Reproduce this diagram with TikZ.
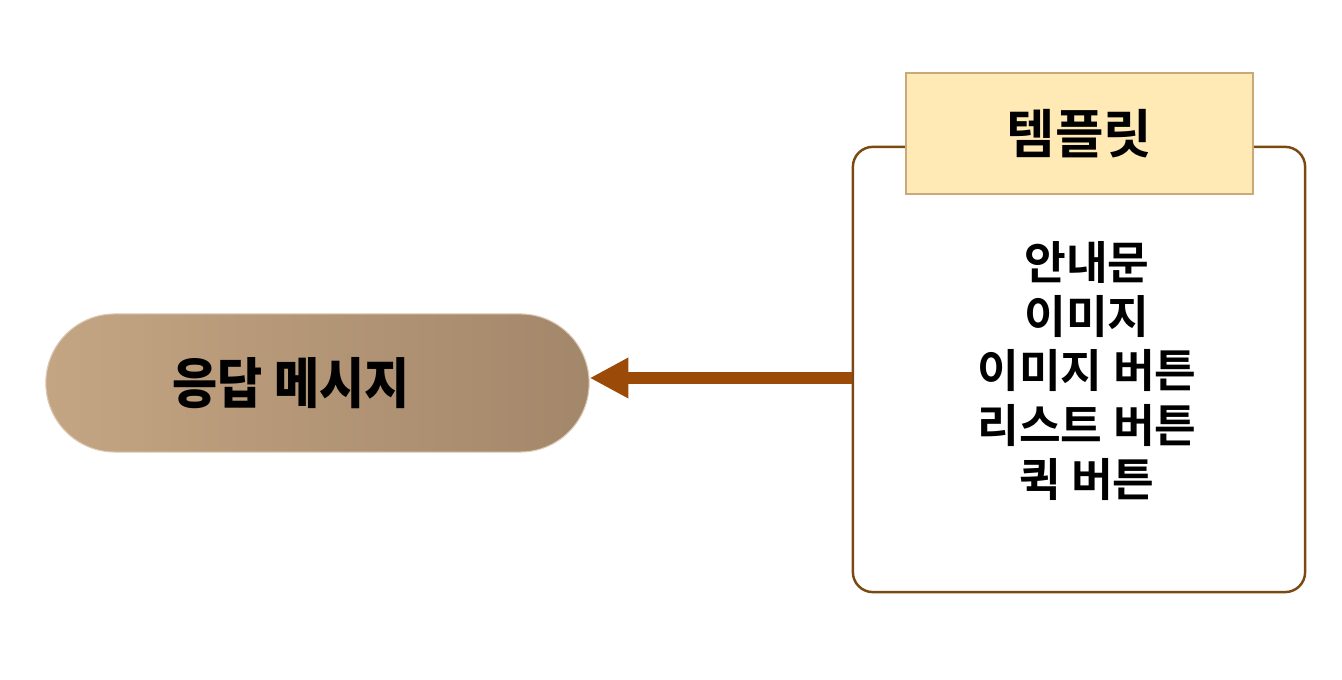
\documentclass[tikz,border=0pt]{standalone}
\usepackage{fontspec}
\setmainfont{Noto Sans CJK KR}[BoldFont={Noto Sans CJK KR Bold}]
\newfontfamily\krblack{Noto Sans CJK KR Black}
\usetikzlibrary{arrows.meta}

\definecolor{boxbrown}{HTML}{7B4A12}
\definecolor{arrowbrown}{HTML}{9B4A07}
\definecolor{headfill}{HTML}{FFEAB6}
\definecolor{headline}{HTML}{C9A97A}
\definecolor{pillleft}{HTML}{C4A583}
\definecolor{pillright}{HTML}{A3876A}

\tikzset{
	pill/.style = {rectangle, rounded corners=0.69cm, minimum width=5.43cm, minimum height=1.38cm,
			left color=pillleft, right color=pillright, draw=pillleft!60!white, line width=0.3pt},
	tmplbox/.style = {rectangle, rounded corners=0.2cm, minimum width=4.52cm, minimum height=4.45cm,
			draw=boxbrown, line width=0.7pt, fill=white},
	tmplhead/.style = {rectangle, minimum width=3.47cm, minimum height=1.21cm,
			fill=headfill, draw=headline, line width=0.4pt},
	resparrow/.style = {-{Triangle[length=11pt,width=10.8pt]}, arrowbrown, line width=3.4pt},
}

\begin{document}
\begin{tikzpicture}[x=0.01cm, y=-0.01cm]
	\path[use as bounding box] (0,0) rectangle (1342,680);
	\node[pill] (resp) at (317.5,383) {};
	\node (resplabel) at (291,383) {\krblack\fontsize{15.5}{18}\selectfont\scalebox{0.9}[1]{응답 메시지}};
	\node[tmplbox] (tmpl) at (1079,369.5) {};
	\node[tmplhead] (head) at (1079.5,133.5) {\bfseries\fontsize{15}{18}\selectfont 템플릿};
	\node[align=center, font=\bfseries\fontsize{12.9}{15.4}\selectfont] (items) at (1087,371) {안내문\\이미지\\이미지 버튼\\리스트 버튼\\퀵 버튼};
	\draw[resparrow] (tmpl.west |- 0,378) -- (resp.east |- 0,378);
\end{tikzpicture}
\end{document}
